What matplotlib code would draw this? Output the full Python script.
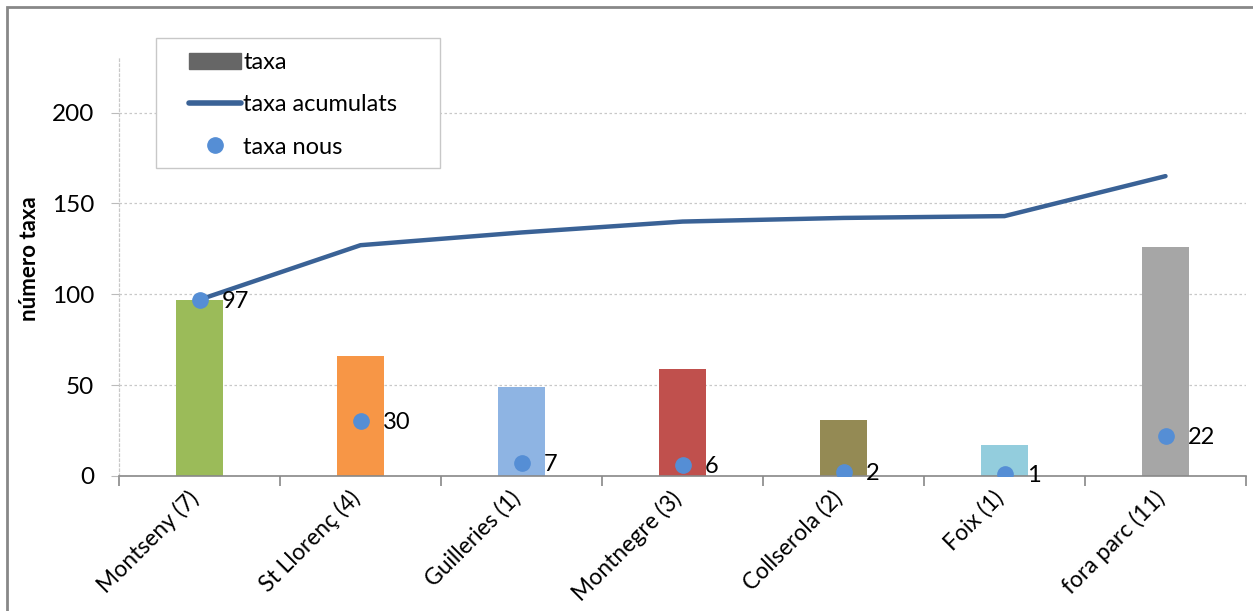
import matplotlib
matplotlib.use("Agg")
import matplotlib.pyplot as plt
from matplotlib.patches import Rectangle
from matplotlib.lines import Line2D
from matplotlib.transforms import ScaledTranslation

categories = ["Montseny (7)", "St Llorenç (4)", "Guilleries (1)", "Montnegre (3)",
              "Collserola (2)", "Foix (1)", "fora parc (11)"]
taxa = [97, 66, 49, 59, 31, 17, 126]
taxa_acumulats = [97, 127, 134, 140, 142, 143, 165]
taxa_nous = [97, 30, 7, 6, 2, 1, 22]
bar_colors = ["#9BBB59", "#F79646", "#8EB4E3", "#C0504D", "#948A54", "#93CDDD", "#A6A6A6"]

plt.rcParams['font.family'] = ['Lato', 'DejaVu Sans']

W, H = 1253, 611
fig = plt.figure(figsize=(W / 100, H / 100), dpi=100)
ax = fig.add_axes([119 / W, 1 - 476 / H, (1246 - 119) / W, (476 - 58) / H])

x = list(range(len(categories)))
ax.bar(x, taxa, width=0.29, color=bar_colors, zorder=2)
ax.plot(x, taxa_acumulats, color="#3A6296", lw=3.2, zorder=3, solid_capstyle='round')
ax.plot(x, taxa_nous, 'o', color="#558ED5", ms=11, zorder=4)
for xi, v in zip(x, taxa_nous):
    ax.annotate(str(v), (xi, v), xytext=(16, -1), textcoords='offset points',
                ha='left', va='center', fontsize=17, zorder=5)

ax.set_xlim(-0.5, len(categories) - 0.5)
ax.set_ylim(0, 230)
ax.set_yticks([0, 50, 100, 150, 200])
ax.tick_params(axis='y', labelsize=17.5, length=6, color='#BBBBBB', width=0.8, pad=12)
ax.yaxis.grid(True, color='#C8C8C8', ls=(0, (2, 2)), lw=0.9)
ax.set_axisbelow(True)

ax.set_xticks([i - 0.5 for i in range(len(categories) + 1)], minor=False)
ax.set_xticklabels([])
ax.tick_params(axis='x', length=7, color='#888888', width=1.2, direction='out')
ax.set_xticks(x, minor=True)
ax.set_xticklabels(categories, minor=True, rotation=45, ha='right', rotation_mode='anchor',
                   fontsize=16.5)
ax.tick_params(axis='x', which='minor', length=0, pad=8)
shift = ScaledTranslation(-12 / 100, 0, fig.dpi_scale_trans)
for lab in ax.get_xticklabels(minor=True):
    lab.set_transform(lab.get_transform() + shift)

for s in ['top', 'right']:
    ax.spines[s].set_visible(False)
ax.spines['bottom'].set_color('#888888')
ax.spines['bottom'].set_linewidth(1.2)
ax.spines['left'].set_color('#C8C8C8')
ax.spines['left'].set_linestyle((0, (2, 2)))
ax.spines['left'].set_linewidth(0.9)

fig.text(30 / W, 1 - 259 / H, "número taxa", rotation=90, fontsize=16, fontweight='bold',
         ha='center', va='center')

# legend frame
fig.patches.append(Rectangle((156 / W, 1 - 168 / H), (440 - 156) / W, (168 - 38) / H,
                             transform=fig.transFigure, facecolor='white',
                             edgecolor='#C8C8C8', lw=1.0, zorder=5))
handles = [Rectangle((0, 0), 1, 1, color="#666666"),
           Line2D([0], [0], color="#3A6296", lw=4, solid_capstyle='round'),
           Line2D([0], [0], marker='o', color="#558ED5", ls='none', ms=11)]
leg = fig.legend(handles, ["taxa", "taxa acumulats", "taxa nous"],
                 loc='upper left', bbox_to_anchor=(182 / W, 1 - 45 / H),
                 frameon=False, fontsize=17,
                 handlelength=2.2, handletextpad=0.1, borderpad=0.3, labelspacing=0.9,
                 borderaxespad=0)
leg.set_zorder(6)

fig.patches.append(Rectangle((7 / W, -0.1), 1.2, 1 - 7 / H + 0.1, transform=fig.transFigure,
                             fill=False, edgecolor='#888888', lw=2))

fig.savefig("out.png", dpi=100)
